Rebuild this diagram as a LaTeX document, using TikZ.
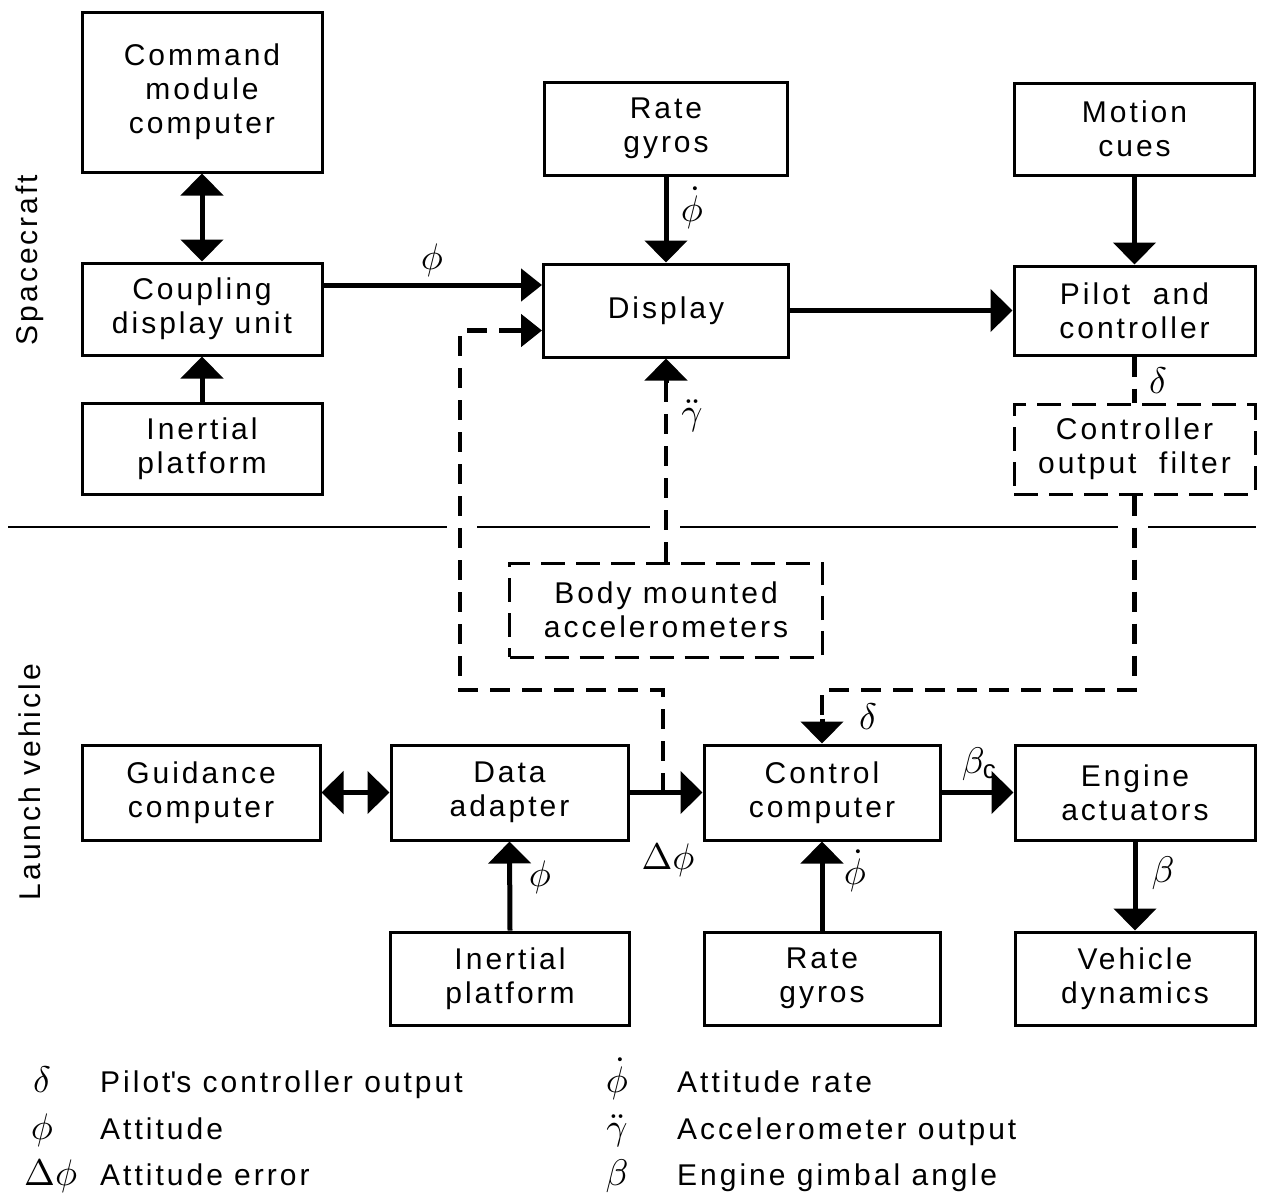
\documentclass[tikz,border=0pt]{standalone}
\usepackage{fontspec}
\setmainfont{Liberation Sans}[LetterSpace=10]
\DeclareFontFamily{OML}{cmm}{\skewchar\font'177}
\DeclareFontShape{OML}{cmm}{m}{it}{<->cmmi10}{}
\DeclareFontShape{OML}{cmm}{b}{it}{<->cmmib10}{}
\DeclareFontFamily{OMS}{cmsy}{\skewchar\font'60}
\DeclareFontShape{OMS}{cmsy}{m}{n}{<->cmsy10}{}
\DeclareFontFamily{OMX}{cmex}{}
\DeclareFontShape{OMX}{cmex}{m}{n}{<->cmex10}{}
\DeclareFontFamily{OT1}{cmr}{\hyphenchar\font45 }
\DeclareFontShape{OT1}{cmr}{m}{n}{<->cmr10}{}
\usetikzlibrary{arrows.meta,calc}
\begin{document}
\begin{tikzpicture}[x=1pt,y=-1pt,
  every node/.style={font=\fontsize{30}{34}\selectfont},
  blk/.style={draw,line width=3pt,align=center,inner sep=0pt},
  dblk/.style={draw,line width=3pt,align=center,inner sep=0pt,dash pattern=on 24pt off 11pt},
  sarr/.style={line width=5pt,-{Triangle[width=42pt,length=22pt]}},
  sarrs/.style={line width=5pt,-{Triangle[width=32pt,length=21pt]}},
  darr/.style={line width=5pt,{Triangle[width=42pt,length=22pt]}-{Triangle[width=42pt,length=22pt]}},
  dsh/.style={line width=4.5pt,dash pattern=on 20pt off 12pt},
  lbl/.style={inner sep=0pt,font=\fontsize{37}{40}\selectfont}]
\useasboundingbox (0,0) rectangle (1261,1194);
% spacecraft
\node[blk,minimum width=240pt,minimum height=160pt] (cmc) at (202,92) {Command\\module\\computer};
\node[blk,minimum width=240pt,minimum height=92pt] (cdu) at (202,309) {Coupling\\display unit};
\node[blk,minimum width=240pt,minimum height=91pt] (ip1) at (202,448.5) {Inertial\\platform};
\node[blk,minimum width=243pt,minimum height=93pt] (rg1) at (666,128.5) {Rate\\gyros};
\node[blk,minimum width=245pt,minimum height=93pt] (disp) at (666,310.5) {Display};
\node[blk,minimum width=240pt,minimum height=92pt] (mc) at (1134.5,129) {Motion\\cues};
\node[blk,minimum width=241pt,minimum height=89pt] (pc) at (1134.5,310.5) {Pilot\ \ and\\controller};
\node[dblk,minimum width=241pt,minimum height=90pt] (cof) at (1134.5,449) {Controller\\output\ \ filter};
\node[dblk,minimum width=313pt,minimum height=94pt] (bma) at (666,610) {Body mounted\\accelerometers};
% launch vehicle
\node[blk,minimum width=238pt,minimum height=95pt] (gc) at (201,792.5) {Guidance\\computer};
\node[blk,minimum width=237pt,minimum height=95pt] (da) at (509.5,792.5) {Data\\adapter};
\node[blk,minimum width=236pt,minimum height=95pt] (cc) at (822,792.5) {Control\\computer};
\node[blk,minimum width=240pt,minimum height=95pt] (ea) at (1135,792.5) {Engine\\actuators};
\node[blk,minimum width=239pt,minimum height=93pt] (ip2) at (510,978.5) {Inertial\\platform};
\node[blk,minimum width=236pt,minimum height=93pt] (rg2) at (822,978.5) {Rate\\gyros};
\node[blk,minimum width=240pt,minimum height=93pt] (vd) at (1135,978.5) {Vehicle\\dynamics};
% side labels
\node[rotate=90] (sclab) at (30,260) {Spacecraft};
\node[rotate=90] (lvlab) at (30,782) {Launch vehicle};
% separator
\draw[line width=2pt] (8,527) -- (447,527) (477,527) -- (650,527) (680,527) -- (1118,527) (1148,527) -- (1256,527);
% solid connectors
\draw[darr] (cmc.south) -- (cdu.north);
\draw[sarr] (ip1.north) -- (cdu.south);
\draw[sarrs] ([yshift=24pt]cdu.east) -- ([yshift=24pt]cdu.east -| disp.west);
\draw[sarr] (rg1.south) -- (disp.north);
\draw[sarr] (disp.east) -- (pc.west);
\draw[sarr] (mc.south) -- (pc.north);
\draw[darr] (gc.east) -- (da.west);
\draw[sarr] (da.east) -- (cc.west);
\draw[sarr] (ip2.north) -- (da.south);
\draw[sarr] (cc.east) -- (ea.west);
\draw[sarr] (rg2.north) -- (cc.south);
\draw[sarr] (ea.south) -- (vd.north);
% dashed connectors
\coordinate (jn) at (663,792.5);
\coordinate (lpL) at (460,690);
\coordinate (rjL) at (822,690);
\coordinate (dtgt) at ([yshift=-20pt]disp.west);
\draw[dsh] (jn) |- (lpL) |- ([xshift=-20pt]dtgt);
\draw[sarrs] ([xshift=-24pt]dtgt) -- (dtgt);
\draw[dsh] (bma.north) -- ([yshift=-22pt]disp.south);
\draw[sarr] ([yshift=-24pt]disp.south) -- (disp.south);
\draw[dsh] (pc.south) -- (cof.north);
\draw[dsh] (cof.south) |- (rjL) -- ([yshift=24pt]cc.north);
\draw[sarr] ([yshift=25pt]cc.north) -- (cc.north);
% signal labels
\node[lbl] (l1) at (432,260) {$\phi$};
\node[lbl] (l2) at (692,208) {$\dot\phi$};
\node[lbl] (l3) at (692,416) {$\ddot\gamma$};
\node[lbl] (l4) at (1158,381) {$\delta$};
\node[lbl] (l5) at (868,717) {$\delta$};
\node[lbl] (l6) at (979,764) {$\beta_{\mathrm{c}}$};
\node[lbl] (l7) at (668,860) {$\Delta\phi$};
\node[lbl] (l8) at (540,877) {$\phi$};
\node[lbl] (l9) at (855,871) {$\dot\phi$};
\node[lbl] (l10) at (1163,873) {$\beta$};
% legend
\node[lbl,anchor=base] (s1) at (42,1092) {$\delta$};
\node[lbl,anchor=base] (s2) at (42,1139) {$\phi$};
\node[lbl,anchor=base west] (s3) at (24,1185) {$\Delta\phi$};
\node[lbl,anchor=base] (s4) at (617,1092) {$\dot\phi$};
\node[lbl,anchor=base] (s5) at (617,1139) {$\ddot\gamma$};
\node[lbl,anchor=base] (s6) at (617,1185) {$\beta$};
\node[lbl,font=\fontsize{30}{34}\selectfont,anchor=base west] (t1) at (100,1092) {Pilot\textquotesingle s controller output};
\node[lbl,font=\fontsize{30}{34}\selectfont,anchor=base west] (t2) at (100,1139) {Attitude};
\node[lbl,font=\fontsize{30}{34}\selectfont,anchor=base west] (t3) at (100,1185) {Attitude error};
\node[lbl,font=\fontsize{30}{34}\selectfont,anchor=base west] (t4) at (677,1092) {Attitude rate};
\node[lbl,font=\fontsize{30}{34}\selectfont,anchor=base west] (t5) at (677,1139) {Accelerometer output};
\node[lbl,font=\fontsize{30}{34}\selectfont,anchor=base west] (t6) at (677,1185) {Engine gimbal angle};
\end{tikzpicture}
\end{document}
